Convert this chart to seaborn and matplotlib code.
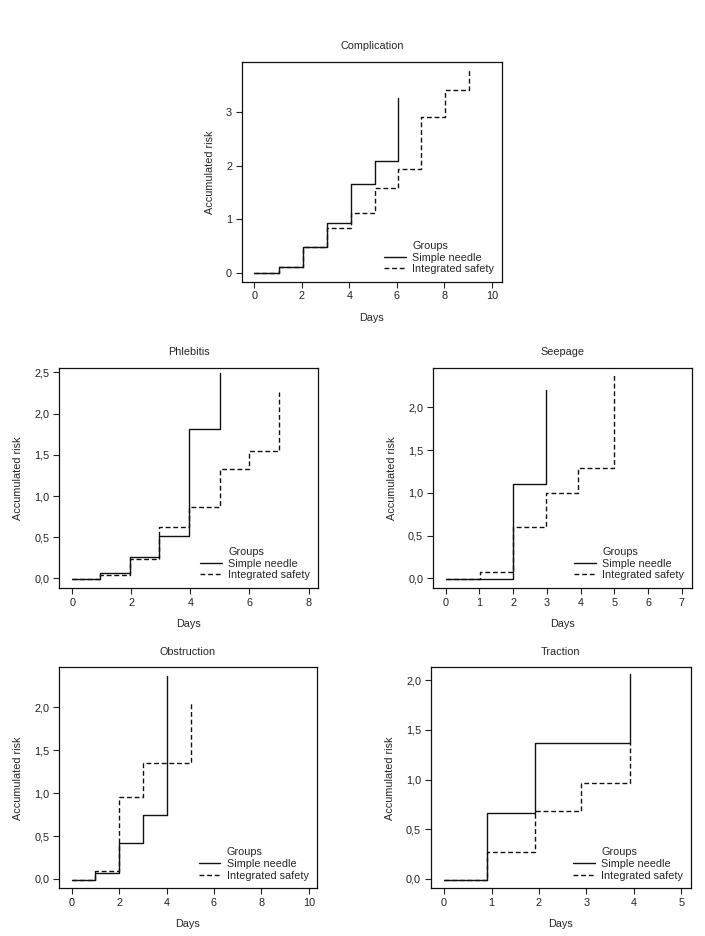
import matplotlib
matplotlib.use("Agg")
import matplotlib.pyplot as plt
from matplotlib.lines import Line2D
from matplotlib.ticker import FuncFormatter
import pandas as pd
import seaborn as sns

# Complication
comp_simple_days = [0, 1.03, 2.06, 3.07, 4.08, 5.07, 6.03]
comp_simple_risk = [0, 0.12, 0.48, 0.94, 1.65, 2.08, 3.26]
comp_safety_days = [0, 1.03, 2.06, 3.07, 4.08, 5.07, 6.03, 7.01, 8.03, 9.04]
comp_safety_risk = [0, 0.12, 0.48, 0.83, 1.11, 1.59, 1.93, 2.90, 3.41, 3.80]

# Phlebitis
phleb_simple_days = [0, 0.94, 1.95, 2.94, 3.95, 4.99]
phleb_simple_risk = [-0.01, 0.07, 0.26, 0.51, 1.81, 2.49]
phleb_safety_days = [0, 0.94, 1.95, 2.94, 3.95, 4.99, 5.98, 7.0]
phleb_safety_risk = [-0.01, 0.045, 0.24, 0.62, 0.87, 1.33, 1.55, 2.26]

# Seepage
seep_simple_days = [0, 2.01, 2.96]
seep_simple_risk = [-0.01, 1.10, 2.20]
seep_safety_days = [0, 1.01, 2.01, 2.96, 3.93, 4.98]
seep_safety_risk = [-0.01, 0.07, 0.60, 1.00, 1.29, 2.40]

# Obstruction
obst_simple_days = [0, 1.0, 2.01, 3.02, 4.03]
obst_simple_risk = [-0.01, 0.07, 0.42, 0.74, 2.37]
obst_safety_days = [0, 1.0, 2.01, 3.02, 5.04]
obst_safety_risk = [-0.01, 0.09, 0.95, 1.35, 2.05]

# Traction
trac_simple_days = [0, 0.91, 1.92, 3.92]
trac_simple_risk = [-0.01, 0.66, 1.37, 2.06]
trac_safety_days = [0, 0.91, 1.92, 2.89, 3.92]
trac_safety_risk = [-0.01, 0.27, 0.68, 0.97, 1.37]

groups = ["Simple needle", "Integrated safety"]

panels = [
    ("Complication", comp_simple_days, comp_simple_risk, comp_safety_days, comp_safety_risk,
     [0.343, 0.699, 0.369, 0.235], (-0.53, 10.42), (-0.16, 3.93), [0, 2, 4, 6, 8, 10], [0, 1, 2, 3]),
    ("Phlebitis", phleb_simple_days, phleb_simple_risk, phleb_safety_days, phleb_safety_risk,
     [0.084, 0.372, 0.367, 0.235], (-0.44, 8.32), (-0.113, 2.556), [0, 2, 4, 6, 8],
     [0, 0.5, 1.0, 1.5, 2.0, 2.5]),
    ("Seepage", seep_simple_days, seep_simple_risk, seep_safety_days, seep_safety_risk,
     [0.614, 0.372, 0.367, 0.235], (-0.38, 7.29), (-0.109, 2.46), [0, 1, 2, 3, 4, 5, 6, 7],
     [0, 0.5, 1.0, 1.5, 2.0]),
    ("Obstruction", obst_simple_days, obst_simple_risk, obst_safety_days, obst_safety_risk,
     [0.084, 0.051, 0.365, 0.236], (-0.52, 10.32), (-0.109, 2.466), [0, 2, 4, 6, 8, 10],
     [0, 0.5, 1.0, 1.5, 2.0]),
    ("Traction", trac_simple_days, trac_simple_risk, trac_safety_days, trac_safety_risk,
     [0.611, 0.051, 0.369, 0.236], (-0.28, 5.20), (-0.094, 2.13), [0, 1, 2, 3, 4, 5],
     [0, 0.5, 1.0, 1.5, 2.0]),
]

sns.set_style("ticks")
plt.rcParams["font.family"] = ["Liberation Sans", "DejaVu Sans"]
fs = 7.8
plt.rcParams["font.size"] = fs

fig = plt.figure(figsize=(7.05, 9.36), dpi=100)

comma = FuncFormatter(lambda v, p: f"{v:.1f}".replace(".", ","))
dash_map = {"Simple needle": "", "Integrated safety": (3.5, 2)}

for (title, sx, sy, ix, iy, rect, xlim, ylim, xt, yt) in panels:
    ax = fig.add_axes(rect)
    df = pd.concat([
        pd.DataFrame({"Days": sx, "Risk": sy, "Groups": groups[0]}),
        pd.DataFrame({"Days": ix, "Risk": iy, "Groups": groups[1]}),
    ])
    sns.lineplot(data=df, x="Days", y="Risk", style="Groups", dashes=dash_map,
                 color="#111111", linewidth=1.0, drawstyle="steps-post",
                 estimator=None, sort=False, legend=False, ax=ax)
    ax.set_xlim(*xlim)
    ax.set_ylim(*ylim)
    ax.set_xticks(xt)
    ax.set_yticks(yt)
    if title != "Complication":
        ax.yaxis.set_major_formatter(comma)
    ax.set_title(title, fontsize=fs, pad=9)
    ax.set_xlabel("Days", fontsize=fs, labelpad=8)
    ax.set_ylabel("Accumulated risk", fontsize=fs, labelpad=8)
    ax.tick_params(axis="both", direction="out", length=4, width=0.8, pad=3,
                   labelsize=fs, colors="#222222")
    for sp in ax.spines.values():
        sp.set_visible(True)
        sp.set_linewidth(0.9)
        sp.set_color("#111111")

    handles = [
        Line2D([], [], color="none"),
        Line2D([], [], color="#111111", lw=1.0),
        Line2D([], [], color="#111111", lw=1.0, dashes=(3.5, 2)),
    ]
    ax.legend(handles, ["Groups"] + groups, loc="lower right", frameon=False,
              fontsize=fs, handlelength=2.0, handletextpad=0.6,
              labelspacing=0.15, borderaxespad=0.3)

fig.savefig("out.png", dpi=100)
